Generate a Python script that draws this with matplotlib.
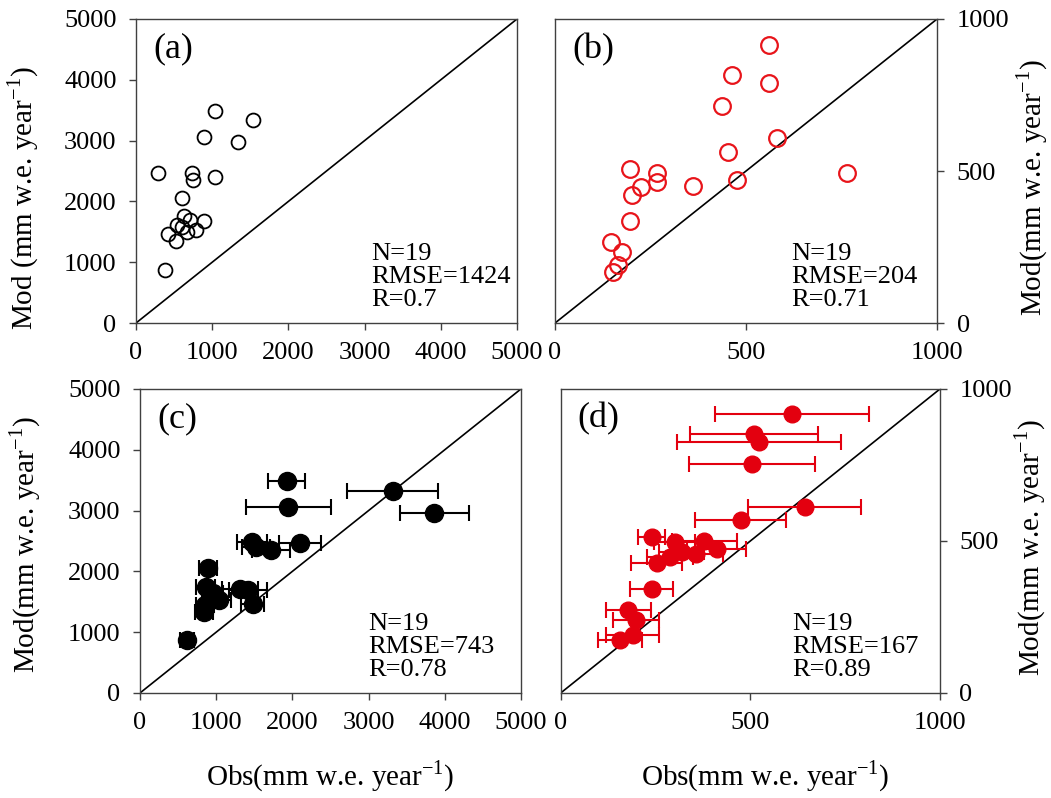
import matplotlib
matplotlib.use("Agg")
import matplotlib.pyplot as plt

plt.rcParams["font.family"] = ["Liberation Serif", "DejaVu Serif"]
plt.rcParams["mathtext.fontset"] = "custom"
plt.rcParams["mathtext.rm"] = "Liberation Serif"

# (a) open black circles, 0-5000
obs_a = [1038, 1541, 893, 1344, 293, 731, 753, 1038, 600, 630, 709, 893, 534, 416, 665, 788, 525, 381, 600]
mod_a = [3490, 3337, 3063, 2980, 2475, 2475, 2349, 2404, 2058, 1756, 1701, 1674, 1608, 1460, 1498, 1526, 1350, 867, 1580]

# (b) open red circles, 0-1000
obs_b = [559, 463, 559, 438, 581, 454, 764, 476, 197, 266, 266, 224, 201, 361, 195, 146, 175, 166, 151]
mod_b = [914, 816, 790, 715, 610, 563, 494, 470, 506, 495, 464, 446, 420, 450, 336, 265, 234, 190, 168]

# (c) filled black with horizontal error bars
obs_c = [1926, 3314, 3862, 1948, 1467, 1520, 1715, 2100, 897, 860, 1312, 1422, 1040, 940, 853, 840, 1479, 613, 960]
mod_c = [3494, 3324, 2968, 3056, 2481, 2400, 2344, 2470, 2060, 1750, 1709, 1698, 1533, 1600, 1440, 1330, 1470, 865, 1650]
err_c = [240, 600, 450, 560, 200, 180, 250, 270, 120, 120, 240, 250, 150, 130, 120, 120, 150, 90, 130]

# (d) filled red with horizontal error bars
obs_d = [611, 510, 522, 504, 644, 475, 240, 300, 379, 411, 319, 357, 253, 288, 240, 178, 199, 190, 156]
mod_d = [918, 853, 826, 752, 613, 569, 513, 498, 500, 473, 465, 456, 429, 448, 342, 273, 239, 190, 173]
err_d = [203, 169, 216, 167, 149, 120, 36, 53, 85, 78, 60, 70, 68, 60, 57, 59, 60, 70, 57]

stats = {
    "a": "N=19\nRMSE=1424\nR=0.7",
    "b": "N=19\nRMSE=204\nR=0.71",
    "c": "N=19\nRMSE=743\nR=0.78",
    "d": "N=19\nRMSE=167\nR=0.89",
}

spine_col = "#404040"
unit = r"mm w.e. year$^{-1}$"
W, H = 1051, 798

fig = plt.figure(figsize=(W / 100, H / 100), dpi=100)
ax_a = fig.add_axes([0.1294, 0.5952, 0.3625, 0.381])
ax_b = fig.add_axes([0.5281, 0.5952, 0.3635, 0.381])
ax_c = fig.add_axes([0.1332, 0.1316, 0.3625, 0.381])
ax_d = fig.add_axes([0.5335, 0.1316, 0.3609, 0.381])


def style(ax, lim, ticks, right=False):
    ax.set_xlim(0, lim)
    ax.set_ylim(0, lim)
    ax.set_xticks(ticks)
    ax.set_yticks(ticks)
    ax.plot([0, lim], [0, lim], color="black", lw=1.2, zorder=1)
    for s in ax.spines.values():
        s.set_color(spine_col)
        s.set_linewidth(1.0)
    ax.tick_params(direction="out", length=5, width=1, colors=spine_col,
                   labelcolor="black", labelsize=19, pad=9)
    ax.tick_params(axis="x", top=False)
    if right:
        ax.yaxis.tick_right()


style(ax_a, 5000, [0, 1000, 2000, 3000, 4000, 5000])
style(ax_b, 1000, [0, 500, 1000], right=True)
style(ax_c, 5000, [0, 1000, 2000, 3000, 4000, 5000])
style(ax_d, 1000, [0, 500, 1000], right=True)

ax_a.plot(obs_a, mod_a, "o", ms=10, mfc="none", mec="black", mew=1.3, zorder=3)
ax_b.plot(obs_b, mod_b, "o", ms=12, mfc="none", mec="#e8141a", mew=1.6, zorder=3)
ax_c.errorbar(obs_c, mod_c, xerr=err_c, fmt="o", ms=13, color="black",
              ecolor="black", elinewidth=1.5, capsize=6, capthick=1.5, zorder=3)
ax_d.errorbar(obs_d, mod_d, xerr=err_d, fmt="o", ms=12, color="#e3000f",
              ecolor="#e3000f", elinewidth=1.5, capsize=6, capthick=1.5, zorder=3)

for ax, tag, xs in [(ax_a, "a", 0.617), (ax_b, "b", 0.618), (ax_c, "c", 0.60), (ax_d, "d", 0.61)]:
    ax.text(0.045, 0.955, f"({tag})", transform=ax.transAxes, fontsize=26, va="top", ha="left")
    ax.text(xs, 0.04, stats[tag], transform=ax.transAxes, fontsize=19, va="bottom",
            ha="left", linespacing=1.05)

# axis titles placed by pixel centre
lab = dict(fontsize=21, ha="center", va="center")
fig.text(23 / W, 1 - 198 / H, "Mod (" + unit + ")", rotation=90, **lab)
fig.text(1032 / W, 1 - 188 / H, "Mod(" + unit + ")", rotation=90, **lab)
fig.text(25 / W, 1 - 545 / H, "Mod(" + unit + ")", rotation=90, **lab)
fig.text(1030 / W, 1 - 548 / H, "Mod(" + unit + ")", rotation=90, **lab)
fig.text(330 / W, 1 - 776 / H, "Obs(" + unit + ")", **lab)
fig.text(765 / W, 1 - 776 / H, "Obs(" + unit + ")", **lab)

fig.savefig("out.png", dpi=100)
